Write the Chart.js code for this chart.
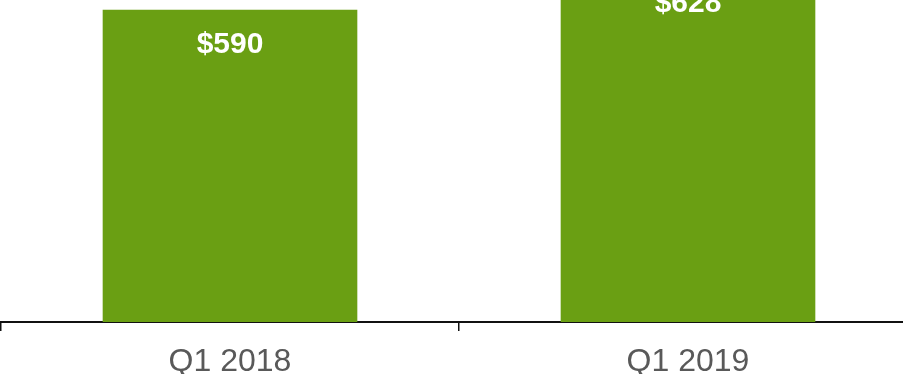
<!DOCTYPE html>
<html>
<head>
<meta charset="utf-8">
<script src="https://cdn.jsdelivr.net/npm/chart.js@4/dist/chart.umd.min.js"></script>
<style>
  html, body { margin: 0; padding: 0; background: #fff; overflow: hidden; }
  #wrap { position: relative; width: 917px; height: 374px; }
</style>
</head>
<body>
<div id="wrap"><canvas id="myChart"></canvas></div>
<script>
const quarters = ['Q1 2018', 'Q1 2019'];
const revenue = [590, 628];
const revenueLabels = ['$590', '$628'];

const barLabels = {
  id: 'barLabels',
  afterDatasetsDraw(chart) {
    const ctx = chart.ctx;
    const meta = chart.getDatasetMeta(0);
    ctx.save();
    ctx.fillStyle = '#ffffff';
    ctx.font = 'bold 30px "Liberation Sans", Arial, sans-serif';
    ctx.textAlign = 'center';
    ctx.textBaseline = 'alphabetic';
    for (let i = 0; i < meta.data.length; i++) {
      const bar = meta.data[i];
      ctx.fillText(revenueLabels[i], bar.x, bar.y + 43);
    }
    ctx.restore();
  }
};

const ctx = document.getElementById('myChart').getContext('2d');
const myChart = new Chart(ctx, {
  type: 'bar',
  data: {
    labels: quarters,
    datasets: [{
      data: revenue,
      backgroundColor: '#6a9f13',
      barPercentage: 0.556,
      categoryPercentage: 1,
    }]
  },
  options: {
    responsive: true,
    maintainAspectRatio: false,
    animation: false,
    layout: { padding: { left: 1, right: 0, top: 0, bottom: 0 } },
    plugins: {
      legend: { display: false },
      tooltip: { enabled: false }
    },
    scales: {
      y: {
        display: false,
        min: 300,
        max: 599
      },
      x: {
        border: { display: true, color: '#111', width: 2 },
        grid: {
          drawOnChartArea: false,
          drawTicks: true,
          tickLength: 9,
          color: '#111',
          lineWidth: 1.5
        },
        ticks: {
          color: '#595959',
          padding: 12,
          font: { family: '"Liberation Sans", Arial, sans-serif', size: 32 }
        },
        afterFit(scale) {
          scale.height = 52;
        }
      }
    }
  },
  plugins: [barLabels]
});
</script>
</body>
</html>
